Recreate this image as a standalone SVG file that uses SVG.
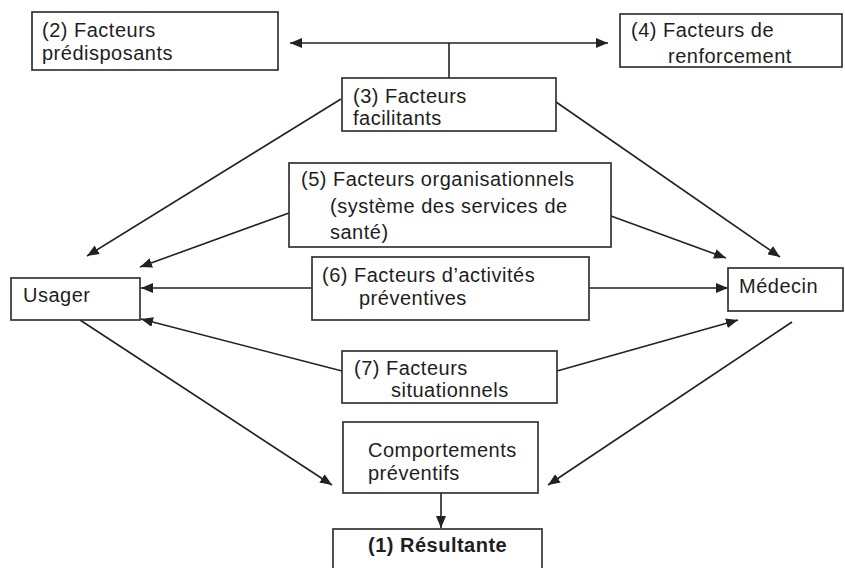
<svg xmlns="http://www.w3.org/2000/svg" width="845" height="568" viewBox="0 0 845 568">
<style>
.box{fill:#fff;stroke:#333;stroke-width:1.7}
.t{font-family:"Liberation Sans",Arial,sans-serif;font-size:20px;letter-spacing:0.5px;fill:#1e1e1e}
.b{font-weight:bold}
.c{stroke:#222;stroke-width:1.6;fill:none}
</style>
<defs>
<marker id="ah" markerUnits="userSpaceOnUse" markerWidth="12" markerHeight="10" refX="12" refY="5" orient="auto-start-reverse">
<path d="M0,0 L12,5 L0,10 z" fill="#222"/>
</marker>
</defs>
<rect width="845" height="568" fill="#fff"/>
<g id="connectors">
<line class="c" x1="290" y1="43" x2="608" y2="43" marker-start="url(#ah)" marker-end="url(#ah)"/>
<line class="c" x1="449" y1="43" x2="449" y2="78"/>
<line class="c" x1="341" y1="99" x2="87" y2="256" marker-end="url(#ah)"/>
<line class="c" x1="556" y1="102" x2="780" y2="257" marker-end="url(#ah)"/>
<line class="c" x1="289" y1="213" x2="140" y2="267" marker-end="url(#ah)"/>
<line class="c" x1="611" y1="216" x2="726" y2="258" marker-end="url(#ah)"/>
<line class="c" x1="312" y1="288" x2="141" y2="288" marker-end="url(#ah)"/>
<line class="c" x1="589" y1="288" x2="728" y2="288" marker-end="url(#ah)"/>
<line class="c" x1="342" y1="371" x2="141" y2="319" marker-end="url(#ah)"/>
<line class="c" x1="557" y1="371" x2="738" y2="320" marker-end="url(#ah)"/>
<line class="c" x1="80" y1="320" x2="332" y2="485" marker-end="url(#ah)"/>
<line class="c" x1="792" y1="322" x2="548" y2="485" marker-end="url(#ah)"/>
<line class="c" x1="441" y1="493" x2="441" y2="528" marker-end="url(#ah)"/>
</g>
<g id="n2">
<rect class="box" x="32" y="12" width="246" height="58"/>
<text class="t" x="42" y="37">(2) Facteurs</text>
<text class="t" x="42" y="60">prédisposants</text>
</g>
<g id="n4">
<rect class="box" x="620" y="14" width="222" height="53"/>
<text class="t" x="631" y="37">(4) Facteurs de</text>
<text class="t" x="668" y="63">renforcement</text>
</g>
<g id="n3">
<rect class="box" x="342" y="78" width="214" height="53"/>
<text class="t" x="353" y="103">(3) Facteurs</text>
<text class="t" x="353" y="125">facilitants</text>
</g>
<g id="n5">
<rect class="box" x="289" y="163" width="322" height="84"/>
<text class="t" x="301" y="186">(5) Facteurs organisationnels</text>
<text class="t" x="330" y="213">(système des services de</text>
<text class="t" x="330" y="239">santé)</text>
</g>
<g id="n6">
<rect class="box" x="312" y="257" width="277" height="63"/>
<text class="t" x="322" y="282">(6) Facteurs d’activités</text>
<text class="t" x="359" y="305">préventives</text>
</g>
<g id="usager">
<rect class="box" x="11" y="278" width="129" height="42"/>
<text class="t" x="23" y="302">Usager</text>
</g>
<g id="medecin">
<rect class="box" x="728" y="268" width="115" height="43"/>
<text class="t" x="739" y="293">Médecin</text>
</g>
<g id="n7">
<rect class="box" x="342" y="351" width="215" height="52"/>
<text class="t" x="354" y="375">(7) Facteurs</text>
<text class="t" x="391" y="397">situationnels</text>
</g>
<g id="comportements">
<rect class="box" x="343" y="422" width="195" height="71"/>
<text class="t" x="368" y="457">Comportements</text>
<text class="t" x="368" y="480">préventifs</text>
</g>
<g id="n1">
<rect class="box" x="333" y="529" width="209" height="46"/>
<text class="t b" x="368" y="552">(1) Résultante</text>
</g>
</svg>
